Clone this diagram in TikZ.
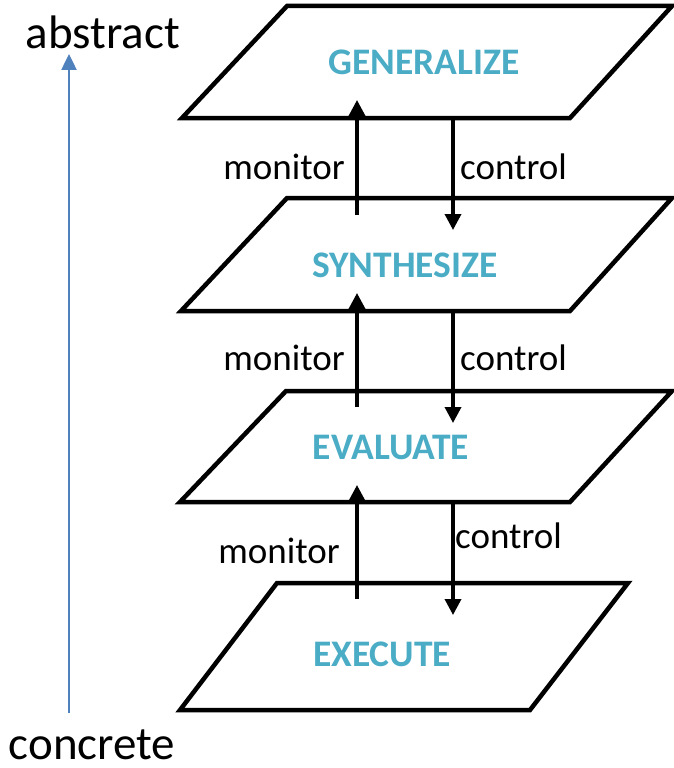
\documentclass[tikz,border=0pt]{standalone}
\usepackage{fontspec}
\setmainfont{Carlito}
\usetikzlibrary{arrows.meta}
\definecolor{levelblue}{HTML}{4BACC6}
\definecolor{axisblue}{HTML}{4F81BD}
\tikzset{
  level/.style={draw=black, line width=4.5pt, line join=miter, fill=white},
  levelname/.style={text=levelblue, font=\bfseries\fontsize{37.5}{44}\selectfont},
  flow/.style={draw=black, line width=3.5pt, -{Triangle[width=16pt,length=16pt]}},
  flowlabel/.style={font=\fontsize{37}{44}\selectfont, inner sep=0pt},
  axis/.style={draw=axisblue, line width=2.5pt, -{Triangle[width=15pt,length=16pt]}},
  axislabel/.style={font=\fontsize{47}{56}\selectfont, inner sep=0pt}
}
\begin{document}
\begin{tikzpicture}[x=1pt,y=-1pt]
\useasboundingbox (0,0) rectangle (674,768);

% the four planes, top to bottom
\draw[level] (287,6) -- (672,6) -- (570,118) -- (182,118) -- cycle;
\draw[level] (287,198) -- (672,198) -- (570,311) -- (181,311) -- cycle;
\draw[level] (286,391) -- (672,391) -- (570,502) -- (180,502) -- cycle;
\draw[level] (277,583) -- (628,583) -- (530,710) -- (180,710) -- cycle;

\node[levelname] (gen) at (424,62) {GENERALIZE};
\node[levelname] (syn) at (405,265) {SYNTHESIZE};
\node[levelname] (eva) at (391,447) {EVALUATE};
\node[levelname] (exe) at (382,654) {EXECUTE};

% arrow end points between neighbouring planes
\coordinate (m1s) at (357,215); \coordinate (m1e) at (357,100);
\coordinate (c1s) at (453,118); \coordinate (c1e) at (453,230);
\coordinate (m2s) at (357,407); \coordinate (m2e) at (357,293);
\coordinate (c2s) at (453,311); \coordinate (c2e) at (453,423);
\coordinate (m3s) at (357,599); \coordinate (m3e) at (357,485);
\coordinate (c3s) at (453,502); \coordinate (c3e) at (453,615);

\draw[flow] (m1s) -- (m1e);
\draw[flow] (c1s) -- (c1e);
\draw[flow] (m2s) -- (m2e);
\draw[flow] (c2s) -- (c2e);
\draw[flow] (m3s) -- (m3e);
\draw[flow] (c3s) -- (c3e);

\node[flowlabel, anchor=east] (ml1) at (345,167) {monitor};
\node[flowlabel, anchor=west] (cl1) at (460,167) {control};
\node[flowlabel, anchor=east] (ml2) at (345,358) {monitor};
\node[flowlabel, anchor=west] (cl2) at (460,358) {control};
\node[flowlabel, anchor=east] (ml3) at (340,551) {monitor};
\node[flowlabel, anchor=west] (cl3) at (455,536) {control};

% abstraction axis
\node[axislabel] (abs) at (103,32) {abstract};
\node[axislabel] (con) at (92,745) {concrete};
\coordinate (axbot) at (69,713);
\coordinate (axtop) at (69,54);
\draw[axis] (axbot) -- (axtop);
\end{tikzpicture}
\end{document}
